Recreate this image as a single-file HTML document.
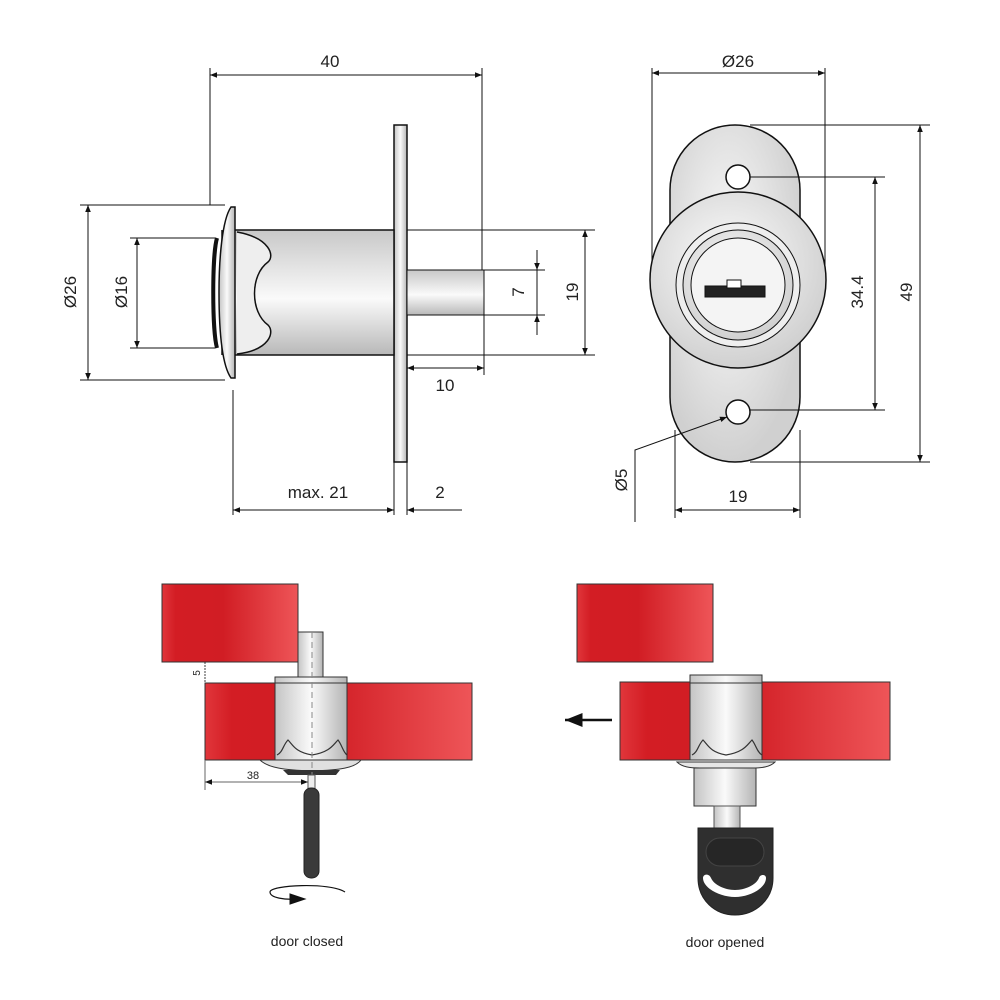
<!DOCTYPE html>
<html><head><meta charset="utf-8"><style>
html,body{margin:0;padding:0;background:#fff;}
svg{display:block;font-family:"Liberation Sans",sans-serif;}
</style></head><body>
<svg width="1000" height="1000" viewBox="0 0 1000 1000" xmlns="http://www.w3.org/2000/svg">
<defs>
<marker id="a" viewBox="0 0 10 10" refX="10" refY="5" markerWidth="9" markerHeight="7" orient="auto-start-reverse"><path d="M0,1 L10,5 L0,9 z" fill="#111"/></marker>
<linearGradient id="cylV" x1="0" y1="0" x2="0" y2="1"><stop offset="0" stop-color="#c8c8c8"/><stop offset="0.55" stop-color="#fafafa"/><stop offset="1" stop-color="#b8b8b8"/></linearGradient>
<linearGradient id="cylH" x1="0" y1="0" x2="1" y2="0"><stop offset="0" stop-color="#c4c4c4"/><stop offset="0.5" stop-color="#fafafa"/><stop offset="1" stop-color="#b4b4b4"/></linearGradient>
<linearGradient id="red" x1="0" y1="0" x2="1" y2="0"><stop offset="0" stop-color="#e1363b"/><stop offset="0.1" stop-color="#d31d24"/><stop offset="0.45" stop-color="#d11d24"/><stop offset="1" stop-color="#ee5558"/></linearGradient>
<radialGradient id="rg" cx="0.45" cy="0.4" r="0.6"><stop offset="0" stop-color="#fdfdfd"/><stop offset="1" stop-color="#d0d0d0"/></radialGradient>
</defs>
<g stroke="#111" stroke-width="1" fill="none">
<!-- TOP LEFT -->
<line x1="210" y1="68" x2="210" y2="205"/><line x1="482" y1="68" x2="482" y2="270"/>
<line x1="210" y1="75" x2="482" y2="75" marker-start="url(#a)" marker-end="url(#a)"/>
<rect x="394" y="125" width="13" height="337" fill="url(#cylH)" stroke-width="1.5"/>
<rect x="407" y="270" width="77" height="45" fill="url(#cylV)"/>
<rect x="233" y="230" width="161" height="125" fill="url(#cylV)" stroke-width="1.5"/>
<path d="M237,232 C270,238 275,256 268,262 C250,275 250,312 268,325 C275,332 270,350 237,354" fill="#eee" stroke-width="1.5"/>
<path d="M217,238 C212,255 212,330 217,348" stroke-width="4"/>
<path d="M222,230 L222,355" stroke-width="1.5"/>
<path d="M231,207 C222,220 219,260 219,292 C219,330 222,365 231,378 L235,378 L235,207 z" fill="url(#cylH)" stroke-width="1.5"/>
<line x1="80" y1="205" x2="225" y2="205"/><line x1="80" y1="380" x2="225" y2="380"/>
<line x1="88" y1="205" x2="88" y2="380" marker-start="url(#a)" marker-end="url(#a)"/>
<line x1="130" y1="238" x2="215" y2="238"/><line x1="130" y1="348" x2="215" y2="348"/>
<line x1="137" y1="238" x2="137" y2="348" marker-start="url(#a)" marker-end="url(#a)"/>
<line x1="484" y1="270" x2="545" y2="270"/><line x1="484" y1="315" x2="545" y2="315"/>
<line x1="537" y1="250" x2="537" y2="270" marker-end="url(#a)"/><line x1="537" y1="335" x2="537" y2="315" marker-end="url(#a)"/>
<line x1="537" y1="270" x2="537" y2="315"/>
<line x1="407" y1="230" x2="595" y2="230"/><line x1="407" y1="355" x2="595" y2="355"/>
<line x1="585" y1="230" x2="585" y2="355" marker-start="url(#a)" marker-end="url(#a)"/>
<line x1="484" y1="315" x2="484" y2="375"/>
<line x1="407" y1="368" x2="484" y2="368" marker-start="url(#a)" marker-end="url(#a)"/>
<line x1="233" y1="390" x2="233" y2="515"/><line x1="394" y1="462" x2="394" y2="515"/><line x1="407" y1="462" x2="407" y2="515"/>
<line x1="233" y1="510" x2="394" y2="510" marker-start="url(#a)" marker-end="url(#a)"/>
<line x1="462" y1="510" x2="407" y2="510" marker-end="url(#a)"/>
<!-- TOP RIGHT -->
<line x1="652" y1="68" x2="652" y2="275"/><line x1="825" y1="68" x2="825" y2="280"/>
<line x1="652" y1="73" x2="825" y2="73" marker-start="url(#a)" marker-end="url(#a)"/>
<rect x="670" y="125" width="130" height="337" rx="65" ry="65" fill="url(#rg)" stroke-width="1.5"/>
<circle cx="738" cy="280" r="88" fill="url(#rg)" stroke-width="1.5"/>
<circle cx="738" cy="285" r="62" fill="#eee"/>
<circle cx="738" cy="285" r="55" fill="url(#rg)"/>
<circle cx="738" cy="285" r="47" fill="#f4f4f4"/>
<rect x="705" y="286" width="60" height="11" fill="#222"/>
<rect x="727" y="280" width="14" height="8" fill="#fff"/>
<circle cx="738" cy="177" r="12" fill="#fff" stroke-width="1.5"/>
<circle cx="738" cy="412" r="12" fill="#fff" stroke-width="1.5"/>
<line x1="750" y1="177" x2="885" y2="177"/><line x1="750" y1="410" x2="885" y2="410"/>
<line x1="875" y1="177" x2="875" y2="410" marker-start="url(#a)" marker-end="url(#a)"/>
<line x1="750" y1="125" x2="930" y2="125"/><line x1="750" y1="462" x2="930" y2="462"/>
<line x1="920" y1="125" x2="920" y2="462" marker-start="url(#a)" marker-end="url(#a)"/>
<line x1="675" y1="430" x2="675" y2="518"/><line x1="800" y1="430" x2="800" y2="518"/>
<line x1="675" y1="510" x2="800" y2="510" marker-start="url(#a)" marker-end="url(#a)"/>
<polyline points="635,522 635,450 727,417" marker-end="url(#a)"/>
<!-- BOTTOM LEFT -->
<rect x="162" y="584" width="136" height="78" fill="url(#red)" stroke="#333"/>
<rect x="205" y="683" width="267" height="77" fill="url(#red)" stroke="#333"/>
<rect x="298" y="632" width="25" height="46" fill="url(#cylH)" stroke="#333"/>
<rect x="275" y="677" width="72" height="83" fill="url(#cylH)" stroke="#333"/>
<line x1="275" y1="683" x2="347" y2="683" stroke="#333"/>
<path d="M277,755 C283,752 283,745 288,740 C293,745 295,752 312,755 C330,752 333,745 338,740 C342,745 343,752 347,755" stroke="#333" stroke-width="1.2"/>
<path d="M260,760 C268,768 285,770 312,771 C340,770 355,768 361,760 z" fill="#e0e0e0" stroke="#333"/>
<path d="M283,770 L340,770 L336,775 L288,775 z" fill="#333" stroke="none"/>
<line x1="312" y1="632" x2="312" y2="790" stroke="#888" stroke-dasharray="6,4"/>
<rect x="308" y="775" width="7" height="15" fill="#eee" stroke="#555"/>
<rect x="304" y="788" width="15" height="90" rx="7" fill="#3a3a3a" stroke="#222"/>
<line x1="205" y1="662" x2="205" y2="683" stroke-width="0.8" stroke-dasharray="2,1"/>
<line x1="205" y1="760" x2="205" y2="790" stroke="#666"/>
<line x1="205" y1="782" x2="308" y2="782" stroke="#666" marker-start="url(#a)" marker-end="url(#a)"/>
<path d="M345,892 C330,882 270,885 270,892 C270,898 285,900 298,899" stroke-width="1.2"/>
<path d="M290,894 L305,899 L290,904 z" fill="#111"/>
<!-- BOTTOM RIGHT -->
<rect x="577" y="584" width="136" height="78" fill="url(#red)" stroke="#333"/>
<rect x="620" y="682" width="270" height="78" fill="url(#red)" stroke="#333"/>
<rect x="690" y="675" width="72" height="85" fill="url(#cylH)" stroke="#333"/>
<line x1="690" y1="683" x2="762" y2="683" stroke="#333"/>
<path d="M692,755 C698,752 698,745 703,740 C708,745 710,752 726,755 C744,752 747,745 752,740 C756,745 757,752 762,755" stroke="#333" stroke-width="1.2"/>
<path d="M677,762 C682,767 690,768 700,768 L752,768 C762,768 770,767 775,762 z" fill="#e6e6e6" stroke="#333"/>
<rect x="694" y="768" width="62" height="38" fill="url(#cylH)" stroke="#333"/>
<rect x="714" y="806" width="26" height="24" fill="url(#cylH)" stroke="#555"/>
<path d="M698,828 L773,828 L773,878 C773,900 755,915 735,915 C715,915 698,900 698,878 z" fill="#2f2f2f" stroke="#222"/>
<rect x="706" y="838" width="58" height="28" rx="14" fill="#262626" stroke="#444"/>
<path d="M703,878 C703,888 720,897 735,897 C750,897 766,888 766,878 C766,874 760,874 759,878 C756,885 745,890 735,890 C725,890 714,885 711,878 C709,873 703,874 703,878 z" fill="#fff" stroke="none"/>
<line x1="612" y1="720" x2="565" y2="720" stroke-width="2.5" marker-end="url(#a)"/>
</g>
<g font-size="17" fill="#222" text-anchor="middle">
<text x="330" y="67">40</text>
<text x="445" y="391">10</text>
<text x="318" y="498">max. 21</text>
<text x="440" y="498">2</text>
<text x="738" y="67">Ø26</text>
<text x="738" y="502">19</text>
<text transform="translate(76,292) rotate(-90)">Ø26</text>
<text transform="translate(127,292) rotate(-90)">Ø16</text>
<text transform="translate(524,292) rotate(-90)">7</text>
<text transform="translate(578,292) rotate(-90)">19</text>
<text transform="translate(863,292) rotate(-90)">34.4</text>
<text transform="translate(912,292) rotate(-90)">49</text>
<text transform="translate(627,480) rotate(-90)">Ø5</text>
<text font-size="10" transform="translate(200,673) rotate(-90)">5</text>
<text font-size="11" x="253" y="779">38</text>
<text font-size="14" x="307" y="946">door closed</text>
<text font-size="14" x="725" y="947">door opened</text>
</g>
</svg>
</body></html>
